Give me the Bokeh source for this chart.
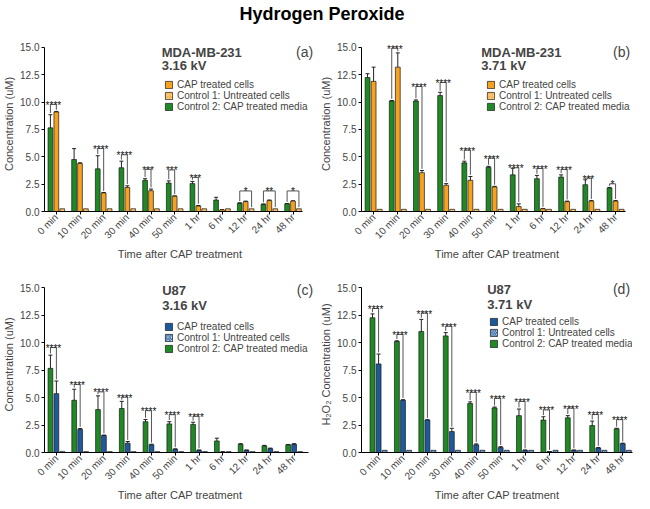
import math
from bokeh.plotting import figure
from bokeh.models import (Range1d, FixedTicker, NumeralTickFormatter, Legend, LegendItem,
                          Label, Div, ColumnDataSource, Whisker, TeeHead, LinearAxis)
from bokeh.layouts import column, row
from bokeh.core.properties import value
from bokeh.embed import file_html
from bokeh.resources import INLINE

FONT = "Liberation Sans"

cats = ["0 min", "10 min", "20 min", "30 min", "40 min", "50 min", "1 hr", "6 hr", "12 hr", "24 hr", "48 hr"]
yticks = [0, 2.5, 5, 7.5, 10, 12.5, 15]

# ---- Panel (a): MDA-MB-231, 3.16 kV
a_media = [7.65, 4.75, 3.9, 4.0, 2.85, 2.6, 2.55, 1.05, 0.75, 0.65, 0.7]
a_media_err = [1.2, 1.0, 1.2, 0.6, 0.15, 0.2, 0.2, 0.25, 0.05, 0.04, 0.03]
a_cells = [9.1, 4.4, 1.7, 2.2, 1.9, 1.4, 0.5, 0.15, 0.9, 1.0, 0.95]
a_cells_err = [0.05, 0.05, 0.03, 0.15, 0.15, 0.03, 0.05, 0.02, 0.05, 0.05, 0.03]
a_untreated = [0.25, 0.25, 0.25, 0.25, 0.25, 0.25, 0.25, 0.25, 0.25, 0.25, 0.25]
a_br_cat = ["0 min", "20 min", "30 min", "40 min", "50 min", "1 hr", "12 hr", "24 hr", "48 hr"]
a_br_top = [9.8, 5.77, 5.19, 3.87, 3.8, 3.13, 1.88, 1.88, 1.88]
a_br_stars = ["****", "****", "****", "***", "***", "***", "*", "**", "*"]
a_br_to = ["cells", "cells", "cells", "cells", "cells", "cells", "untreated", "untreated", "untreated"]

# ---- Panel (b): MDA-MB-231, 3.71 kV
b_media = [12.25, 10.1, 10.1, 10.6, 4.45, 4.05, 3.35, 3.0, 3.15, 2.45, 2.15]
b_media_err = [0.35, 0.05, 0.1, 0.3, 0.15, 0.08, 0.6, 0.3, 0.2, 0.45, 0.05]
b_cells = [11.9, 13.2, 3.55, 2.4, 2.85, 2.25, 0.45, 0.25, 0.9, 0.95, 0.95]
b_cells_err = [1.3, 1.3, 0.2, 0.15, 0.35, 0.05, 0.25, 0.03, 0.05, 0.05, 0.05]
b_untreated = [0.2, 0.2, 0.2, 0.2, 0.2, 0.2, 0.2, 0.2, 0.2, 0.2, 0.2]
b_br_cat = ["10 min", "20 min", "30 min", "40 min", "50 min", "1 hr", "6 hr", "12 hr", "24 hr", "48 hr"]
b_br_top = [14.94, 11.44, 11.8, 5.62, 4.88, 4.0, 3.94, 3.85, 3.06, 2.53]
b_br_stars = ["****", "****", "****", "****", "****", "****", "****", "****", "***", "*"]
b_br_to = ["cells"] * 10

# ---- Panel (c): U87, 3.16 kV
c_media = [7.65, 4.75, 3.9, 4.0, 2.8, 2.6, 2.55, 1.05, 0.75, 0.6, 0.7]
c_media_err = [1.2, 1.0, 1.25, 0.65, 0.2, 0.2, 0.2, 0.25, 0.05, 0.05, 0.03]
c_cells = [5.35, 2.1, 1.55, 0.85, 0.7, 0.3, 0.2, 0.05, 0.2, 0.35, 0.75]
c_cells_err = [1.15, 0.08, 0.03, 0.15, 0.05, 0.03, 0.03, 0.01, 0.03, 0.05, 0.05]
c_untreated = [0.1, 0.08, 0.08, 0.08, 0.08, 0.08, 0.08, 0.08, 0.08, 0.08, 0.08]
c_br_cat = ["0 min", "10 min", "20 min", "30 min", "40 min", "50 min", "1 hr"]
c_br_top = [9.54, 6.19, 5.51, 5.04, 3.8, 3.44, 3.3]
c_br_stars = ["****"] * 7
c_br_to = ["cells"] * 7

# ---- Panel (d): U87, 3.71 kV
d_media = [12.25, 10.1, 11.0, 10.6, 4.45, 4.05, 3.35, 2.95, 3.15, 2.45, 2.15]
d_media_err = [0.35, 0.05, 1.1, 0.3, 0.15, 0.08, 0.6, 0.3, 0.2, 0.4, 0.05]
d_cells = [8.05, 4.75, 2.95, 1.9, 0.7, 0.45, 0.2, 0.08, 0.2, 0.4, 0.8]
d_cells_err = [0.9, 0.05, 0.03, 0.3, 0.08, 0.08, 0.03, 0.01, 0.03, 0.05, 0.05]
d_untreated = [0.2, 0.2, 0.2, 0.2, 0.2, 0.2, 0.2, 0.2, 0.2, 0.2, 0.2]
d_br_cat = cats
d_br_top = [13.09, 10.74, 12.68, 11.49, 5.48, 4.93, 4.65, 3.87, 4.04, 3.46, 2.99]
d_br_stars = ["****"] * 11
d_br_to = ["cells"] * 11

GREEN = "#1f8a24"
ORANGE = "#f6a21e"
ORANGE_LIGHT = "#fde3c2"
BLUE = "#1d5a9c"
BLUE_LIGHT = "#dde7f3"
EDGE = "#1a1a1a"

OFF_MEDIA, OFF_CELLS, OFF_UNT = -0.25, 0.0, 0.25
BW = 0.2


def make_panel(media, media_err, cells, cells_err, untreated, br_cat, br_top, br_stars, br_to,
               col, col_light, hatch, cell_line, kv, tag, ylabel,
               width, height, bl, br, bt, bb, label_y, legend_loc, xmin, xmax, xaxis_end):
    p = figure(width=width, height=height, output_backend="svg", toolbar_location=None,
               x_range=Range1d(xmin, xmax), y_range=Range1d(0, 16),
               min_border_left=bl, min_border_right=br, min_border_top=bt, min_border_bottom=bb,
               x_axis_type=None, y_axis_type=None)
    p.outline_line_color = None
    p.xgrid.visible = False
    p.ygrid.visible = False
    p.background_fill_color = "white"

    idx = [i + 0.5 for i in range(len(cats))]
    src = ColumnDataSource(dict(
        xm=[x + OFF_MEDIA for x in idx], xc=[x + OFF_CELLS for x in idx], xu=[x + OFF_UNT for x in idx],
        media=media, cells=cells, unt=untreated,
        m_up=[m + e for m, e in zip(media, media_err)], m_lo=[m - e for m, e in zip(media, media_err)],
        c_up=[m + e for m, e in zip(cells, cells_err)], c_lo=[max(m - e, 0) for m, e in zip(cells, cells_err)],
    ))

    r_media = p.vbar(x="xm", top="media", width=BW, source=src, fill_color=GREEN,
                     line_color=EDGE, line_width=0.7)
    r_cells = p.vbar(x="xc", top="cells", width=BW, source=src, fill_color=col,
                     line_color=EDGE, line_width=0.7)
    r_unt = p.vbar(x="xu", top="unt", width=BW, source=src, fill_color=col_light,
                   hatch_pattern=hatch, hatch_color=col, hatch_scale=3.5, hatch_weight=1,
                   line_color=EDGE, line_width=0.7)

    for base, up, lo in (("xm", "m_up", "m_lo"), ("xc", "c_up", "c_lo")):
        w = Whisker(base=base, upper=up, lower=lo, source=src, dimension="height",
                    line_color="#222222", line_width=1,
                    upper_head=TeeHead(size=4, line_color="#222222", line_width=1),
                    lower_head=TeeHead(size=4, line_color="#222222", line_width=1))
        p.add_layout(w)

    # significance brackets
    bx0, bx1, btop, bl0, bl1, bxc = [], [], [], [], [], []
    for c, t, to in zip(br_cat, br_top, br_to):
        i = cats.index(c)
        x0 = i + 0.5 + OFF_MEDIA
        if to == "cells":
            x1 = i + 0.5 + OFF_CELLS
            rb = cells[i] + cells_err[i] + 0.15
        else:
            x1 = i + 0.5 + OFF_UNT
            rb = untreated[i] + 0.15
        lb = media[i] + media_err[i] + 0.15
        bx0.append(x0); bx1.append(x1); btop.append(t)
        bl0.append(min(lb, t - 0.05)); bl1.append(min(rb, t - 0.05))
        bxc.append((x0 + x1) / 2)
    bsrc = ColumnDataSource(dict(x0=bx0, x1=bx1, top=btop, l0=bl0, l1=bl1, xc=bxc, stars=br_stars))
    p.segment(x0="x0", y0="top", x1="x1", y1="top", source=bsrc, line_color="#555555", line_width=1)
    p.segment(x0="x0", y0="top", x1="x0", y1="l0", source=bsrc, line_color="#555555", line_width=1)
    p.segment(x0="x1", y0="top", x1="x1", y1="l1", source=bsrc, line_color="#555555", line_width=1)
    p.text(x="xc", y="top", text="stars", source=bsrc, text_align="center",
           text_baseline="alphabetic", text_font=value(FONT), text_font_size="10px",
           text_color="#111111", y_offset=1)

    # axes
    yax = LinearAxis(bounds=(0, 15), ticker=FixedTicker(ticks=yticks),
                     formatter=NumeralTickFormatter(format="0.0"))
    yax.axis_label = ylabel
    yax.axis_label_text_font = FONT
    yax.axis_label_text_font_style = "normal"
    yax.axis_label_text_font_size = "11px"
    yax.axis_label_standoff = 2
    yax.major_label_text_font = FONT
    yax.major_label_text_font_size = "10px"
    yax.major_label_standoff = 2
    yax.major_tick_out = 3
    yax.major_tick_in = 0
    yax.minor_tick_out = 0
    yax.axis_line_color = "black"
    yax.major_tick_line_color = "black"
    p.add_layout(yax, "left")

    xax = LinearAxis(bounds=(xmin, xaxis_end), ticker=FixedTicker(ticks=idx),
                     major_label_overrides={x: c for x, c in zip(idx, cats)})
    xax.axis_label = "Time after CAP treatment"
    xax.axis_label_text_font = FONT
    xax.axis_label_text_font_style = "normal"
    xax.axis_label_text_font_size = "11px"
    xax.axis_label_standoff = 0
    xax.major_label_orientation = math.pi / 4
    xax.major_label_text_font = FONT
    xax.major_label_text_font_size = "10px"
    xax.major_label_standoff = 1
    xax.major_tick_out = 3
    xax.major_tick_in = 0
    xax.minor_tick_out = 0
    xax.axis_line_color = "black"
    p.add_layout(xax, "below")

    # panel labels
    y1, y2 = label_y
    p.add_layout(Label(x=4.95, y=y1, text=cell_line, text_font=FONT, text_font_size="13px",
                       text_font_style="bold", text_baseline="middle", text_align="left"))
    p.add_layout(Label(x=4.95, y=y2, text=kv, text_font=FONT, text_font_size="13px",
                       text_font_style="bold", text_baseline="middle", text_align="left"))
    p.add_layout(Label(x=xmax - 0.1, y=y1, text=tag, text_font=FONT, text_font_size="14px",
                       text_baseline="middle", text_align="right"))

    legend = Legend(items=[LegendItem(label="CAP treated cells", renderers=[r_cells]),
                           LegendItem(label="Control 1: Untreated cells", renderers=[r_unt]),
                           LegendItem(label="Control 2: CAP treated media", renderers=[r_media])],
                    location=legend_loc, orientation="vertical")
    legend.background_fill_alpha = 0
    legend.border_line_alpha = 0
    legend.label_text_font = FONT
    legend.label_text_font_size = "10px"
    legend.glyph_width = 9
    legend.glyph_height = 9
    legend.label_height = 10
    legend.label_standoff = 4
    legend.spacing = 0
    legend.padding = 0
    legend.margin = 0
    p.add_layout(legend)
    return p


pa = make_panel(a_media, a_media_err, a_cells, a_cells_err, a_untreated,
                a_br_cat, a_br_top, a_br_stars, a_br_to, ORANGE, ORANGE_LIGHT,
                "right_diagonal_line", "MDA-MB-231", "3.16 kV", "(a)", "Concentration (uM)",
                317, 230, 33, 2, 4, 44, (14.55, 13.35), (120, 99), 0, 11.45, 10.9)
pb = make_panel(b_media, b_media_err, b_cells, b_cells_err, b_untreated,
                b_br_cat, b_br_top, b_br_stars, b_br_to, ORANGE, ORANGE_LIGHT,
                "right_diagonal_line", "MDA-MB-231", "3.71 kV", "(b)", "Concentration (uM)",
                317, 230, 42, 2, 4, 44, (14.55, 13.35), (125, 99), 0, 11.2, 10.9)
pc = make_panel(c_media, c_media_err, c_cells, c_cells_err, c_untreated,
                c_br_cat, c_br_top, c_br_stars, c_br_to, BLUE, BLUE_LIGHT,
                "right_diagonal_line", "U87", "3.16 kV", "(c)", "Concentration (uM)",
                317, 241, 33, 2, 14, 37, (14.75, 13.35), (120, 98), 0, 11.4, 11.1)
pd_ = make_panel(d_media, d_media_err, d_cells, d_cells_err, d_untreated,
                 d_br_cat, d_br_top, d_br_stars, d_br_to, BLUE, BLUE_LIGHT,
                 "left_diagonal_line", "U87", "3.71 kV", "(d)", "H\u2082O\u2082 Concentration (uM)",
                 317, 241, 43, 2, 10, 38, (14.85, 13.5), (128, 103), -0.2, 10.9, 10.9)

title = Div(text="Hydrogen Peroxide", width=634, height=22,
            styles={"text-align": "center", "font-size": "18px", "font-weight": "bold",
                    "font-family": FONT, "width": "634px", "line-height": "18px"})

layout = column(title, row(pa, pb, spacing=0), row(pc, pd_, spacing=0), spacing=0)
open("out.html", "w").write(file_html(layout, INLINE))
